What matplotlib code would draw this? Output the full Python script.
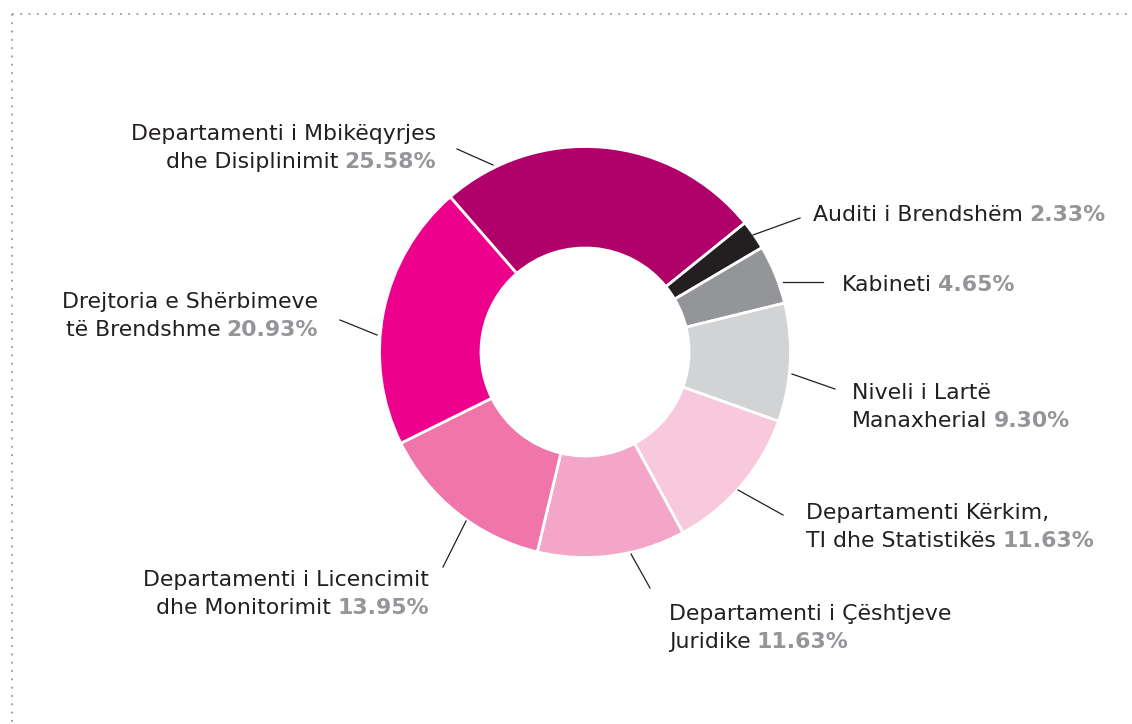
import matplotlib
matplotlib.use("Agg")
import matplotlib.pyplot as plt

# ---- data ----
names_line1 = ["Departamenti i Mbikëqyrjes", "", "", "Niveli i Lartë",
               "Departamenti Kërkim,", "Departamenti i Çështjeve",
               "Departamenti i Licencimit", "Drejtoria e Shërbimeve"]
names_line2 = ["dhe Disiplinimit", "Auditi i Brendshëm", "Kabineti", "Manaxherial",
               "TI dhe Statistikës", "Juridike", "dhe Monitorimit", "të Brendshme"]
shares = [25.58, 2.33, 4.65, 9.30, 11.63, 11.63, 13.95, 20.93]
colors = ["#B0006A", "#231F20", "#939598", "#D1D3D4",
          "#F8C9DD", "#F4A6C8", "#F075AA", "#EC008C"]

# ---- layout (pixel coordinates, y from top) ----
W, H = 1132, 724
cx, cy = 585, 352
r_out, r_in = 205.5, 104
# label anchor x, first-line baseline y, alignment
label_pos = [(436, 140, "right"), (813, 221, "left"), (842, 291, "left"),
             (852, 399, "left"), (806, 519, "left"), (669, 620, "left"),
             (429, 586, "right"), (318, 308, "right")]
line_gap = 28
leaders = [((493, 165), (457, 149)), ((753, 235), (800, 218)),
           ((783, 282), (823, 282)), ((792, 374), (835, 389)),
           ((738, 490), (783, 515)), ((631, 554), (650, 588)),
           ((466, 521), (443, 567)), ((377, 335), (340, 320))]

plt.rcParams['font.family'] = ['DejaVu Sans']
fig = plt.figure(figsize=(W / 100, H / 100), dpi=100)
ax = fig.add_axes([0, 0, 1, 1])

def Y(y):
    return H - y

ax.pie(shares, colors=colors, startangle=131, counterclock=False,
       radius=r_out, center=(cx, Y(cy)),
       wedgeprops=dict(width=r_out - r_in, edgecolor="white", linewidth=2.0))

ax.set_xlim(0, W)
ax.set_ylim(0, H)
ax.set_aspect("equal")
ax.axis("off")

fs = 15.8
black = "#231F20"
grey = "#939598"

for i in range(len(shares)):
    x, y, ha = label_pos[i]
    l1, l2 = names_line1[i], names_line2[i]
    pct = f"{shares[i]:.2f}%"
    if l1:
        y2 = y + line_gap
        ax.text(x, Y(y), l1, ha=ha, va="baseline", fontsize=fs, color=black)
    else:
        y2 = y
    if ha == "right":
        tp = ax.text(x, Y(y2), pct, ha="right", va="baseline", fontsize=fs,
                     color=grey, fontweight="bold")
        ax.annotate(l2, xy=(0, Y(y2)), xycoords=(tp, "data"), xytext=(-4.5, 0),
                    textcoords="offset points", ha="right", va="baseline",
                    fontsize=fs, color=black)
    else:
        tb = ax.text(x, Y(y2), l2, ha="left", va="baseline", fontsize=fs, color=black)
        ax.annotate(pct, xy=(1, Y(y2)), xycoords=(tb, "data"), xytext=(4.5, 0),
                    textcoords="offset points", ha="left", va="baseline",
                    fontsize=fs, color=grey, fontweight="bold")
    (x0, y0), (x1, y1) = leaders[i]
    ax.plot([x0, x1], [Y(y0), Y(y1)], color="#231F20", lw=0.9)

# dotted frame
ax.plot([12, W], [Y(14), Y(14)], color="#9A9A9A", lw=1.3,
        linestyle=(0, (1, 3.6)), solid_capstyle="butt")
ax.plot([12, 12], [Y(14), 0], color="#9A9A9A", lw=1.3,
        linestyle=(0, (1, 3.6)))

fig.savefig("out.png", dpi=100, facecolor="white")
